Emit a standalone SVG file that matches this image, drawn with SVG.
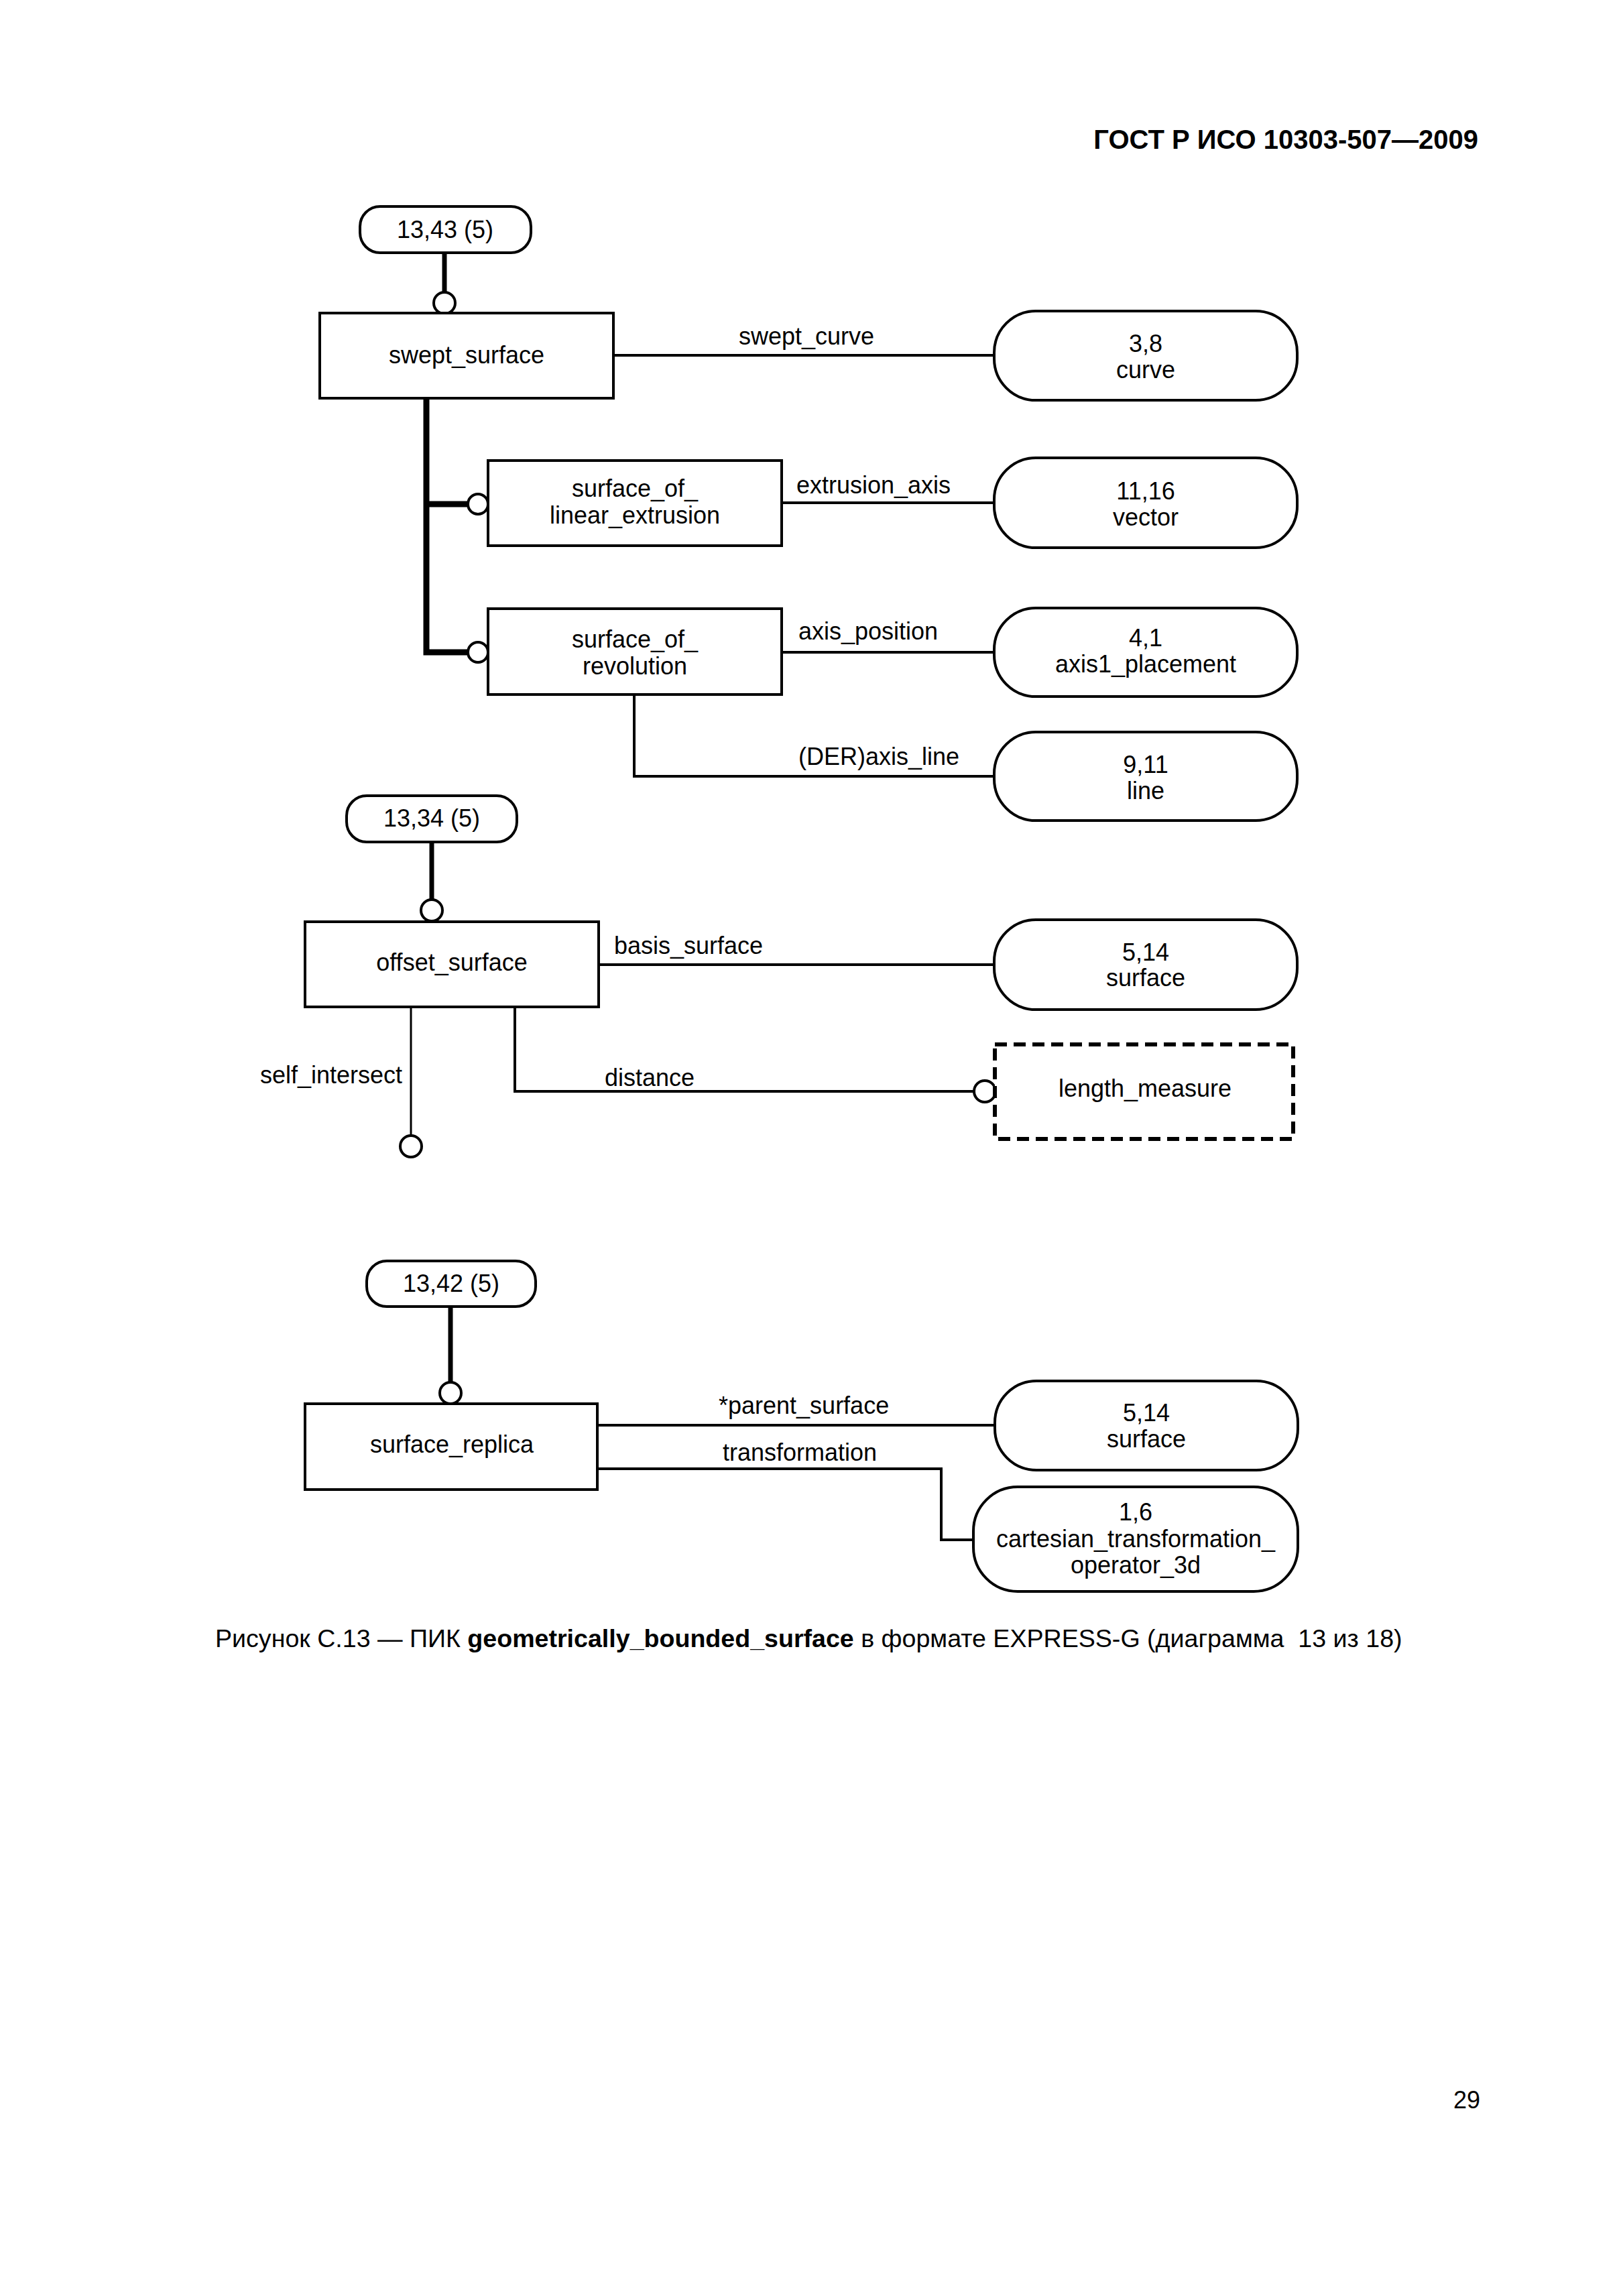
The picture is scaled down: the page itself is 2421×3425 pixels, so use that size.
<svg xmlns="http://www.w3.org/2000/svg" width="2421" height="3425" viewBox="0 0 2421 3425">
<style>
text{font-family:"Liberation Sans",Arial,sans-serif;font-size:36px;fill:#000}
.c{text-anchor:middle}
.box{fill:#fff;stroke:#000;stroke-width:4}
.pill{fill:#fff;stroke:#000;stroke-width:4}
.ln{fill:none;stroke:#000;stroke-width:4}
.thin{fill:none;stroke:#000;stroke-width:3}
.ref{fill:none;stroke:#000;stroke-width:7}
.tree{fill:none;stroke:#000;stroke-width:9}
.circ{fill:#fff;stroke:#000;stroke-width:4}
.dash{fill:#fff;stroke:#000;stroke-width:6;stroke-dasharray:18 10}
</style>
<rect width="2421" height="3425" fill="#fff"/>
<text x="2205" y="222" style="font-size:40px;font-weight:bold;text-anchor:end">ГОСТ Р ИСО 10303-507—2009</text>

<g id="connectors">
  <line class="ref" x1="663" y1="377" x2="663" y2="437"/>
  <line class="ln" x1="915" y1="530" x2="1483" y2="530"/>
  <polyline class="tree" points="636,594 636,973 698,973"/>
  <line class="tree" x1="636" y1="752" x2="698" y2="752"/>
  <line class="ln" x1="1166" y1="750" x2="1483" y2="750"/>
  <line class="ln" x1="1166" y1="973" x2="1483" y2="973"/>
  <polyline class="ln" points="946,1036 946,1158 1483,1158"/>
  <line class="ref" x1="644" y1="1256" x2="644" y2="1342"/>
  <line class="ln" x1="893" y1="1439" x2="1483" y2="1439"/>
  <line class="thin" x1="613" y1="1502" x2="613" y2="1694"/>
  <polyline class="ln" points="768,1502 768,1628 1453,1628"/>
  <line class="ref" x1="672" y1="1949" x2="672" y2="2062"/>
  <line class="ln" x1="891" y1="2126" x2="1484" y2="2126"/>
  <polyline class="ln" points="891,2191 1404,2191 1404,2297 1452,2297"/>
  <text class="c" x="1203" y="514">swept_curve</text>
  <text x="1188" y="736">extrusion_axis</text>
  <text x="1191" y="954">axis_position</text>
  <text x="1191" y="1141">(DER)axis_line</text>
  <text x="916" y="1423">basis_surface</text>
  <text x="600" y="1616" style="text-anchor:end">self_intersect</text>
  <text x="902" y="1620">distance</text>
  <text x="1072" y="2109">*parent_surface</text>
  <text x="1078" y="2179">transformation</text>
  <circle class="circ" cx="663" cy="452" r="16"/>
  <circle class="circ" cx="713" cy="752" r="15"/>
  <circle class="circ" cx="713" cy="973" r="15"/>
  <circle class="circ" cx="644" cy="1358" r="16"/>
  <circle class="circ" cx="613" cy="1710" r="16"/>
  <circle class="circ" cx="1469" cy="1628" r="16"/>
  <circle class="circ" cx="672" cy="2078" r="16"/>
</g>

<g id="ref_13_43">
  <rect class="pill" x="537" y="308" width="255" height="69" rx="30" ry="30"/>
  <text class="c" x="664" y="355">13,43 (5)</text>
</g>
<g id="swept_surface">
  <rect class="box" x="477" y="467" width="438" height="127"/>
  <text class="c" x="696" y="542">swept_surface</text>
</g>
<g id="curve">
  <rect class="pill" x="1483" y="464" width="452" height="133" rx="62" ry="62"/>
  <text class="c" x="1709" y="525">3,8</text>
  <text class="c" x="1709" y="564">curve</text>
</g>
<g id="surface_of_linear_extrusion">
  <rect class="box" x="728" y="687" width="438" height="127"/>
  <text class="c" x="947" y="741">surface_of_</text>
  <text class="c" x="947" y="781">linear_extrusion</text>
</g>
<g id="vector">
  <rect class="pill" x="1483" y="683" width="452" height="134" rx="62" ry="62"/>
  <text class="c" x="1709" y="745">11,16</text>
  <text class="c" x="1709" y="784">vector</text>
</g>
<g id="surface_of_revolution">
  <rect class="box" x="728" y="908" width="438" height="128"/>
  <text class="c" x="947" y="966">surface_of_</text>
  <text class="c" x="947" y="1006">revolution</text>
</g>
<g id="axis1_placement">
  <rect class="pill" x="1483" y="907" width="452" height="132" rx="62" ry="62"/>
  <text class="c" x="1709" y="964">4,1</text>
  <text class="c" x="1709" y="1003">axis1_placement</text>
</g>
<g id="line">
  <rect class="pill" x="1483" y="1092" width="452" height="132" rx="62" ry="62"/>
  <text class="c" x="1709" y="1153">9,11</text>
  <text class="c" x="1709" y="1192">line</text>
</g>
<g id="ref_13_34">
  <rect class="pill" x="517" y="1187" width="254" height="69" rx="30" ry="30"/>
  <text class="c" x="644" y="1233">13,34 (5)</text>
</g>
<g id="offset_surface">
  <rect class="box" x="455" y="1375" width="438" height="127"/>
  <text class="c" x="674" y="1448">offset_surface</text>
</g>
<g id="surface_1">
  <rect class="pill" x="1483" y="1372" width="452" height="134" rx="62" ry="62"/>
  <text class="c" x="1709" y="1433">5,14</text>
  <text class="c" x="1709" y="1471">surface</text>
</g>
<g id="length_measure">
  <rect class="dash" x="1484" y="1558" width="445" height="141"/>
  <text class="c" x="1708" y="1636">length_measure</text>
</g>
<g id="ref_13_42">
  <rect class="pill" x="547" y="1881" width="252" height="68" rx="30" ry="30"/>
  <text class="c" x="673" y="1927">13,42 (5)</text>
</g>
<g id="surface_replica">
  <rect class="box" x="455" y="2094" width="436" height="128"/>
  <text class="c" x="674" y="2167">surface_replica</text>
</g>
<g id="surface_2">
  <rect class="pill" x="1484" y="2060" width="452" height="133" rx="62" ry="62"/>
  <text class="c" x="1710" y="2120">5,14</text>
  <text class="c" x="1710" y="2159">surface</text>
</g>
<g id="cartesian_transformation_operator_3d">
  <rect class="pill" x="1452" y="2218" width="484" height="156" rx="66" ry="66"/>
  <text class="c" x="1694" y="2268">1,6</text>
  <text class="c" x="1694" y="2308">cartesian_transformation_</text>
  <text class="c" x="1694" y="2347">operator_3d</text>
</g>

<text x="321" y="2457" style="white-space:pre;font-size:37.6px">Рисунок С.13 — ПИК <tspan font-weight="bold">geometrically_bounded_surface</tspan> в формате EXPRESS-G (диаграмма  13 из 18)</text>
<text x="2208" y="3145" style="text-anchor:end">29</text>
</svg>
